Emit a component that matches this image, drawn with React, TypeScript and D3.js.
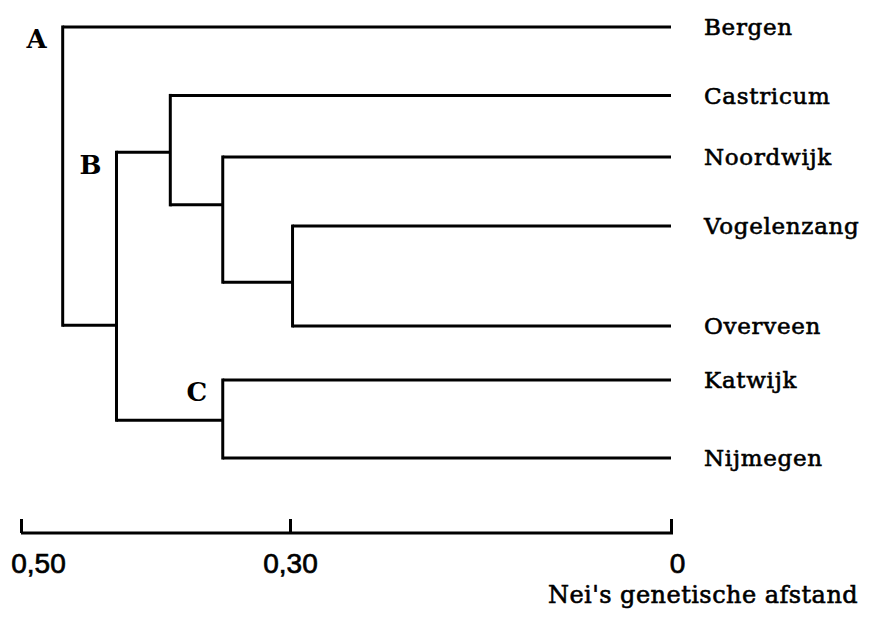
import * as d3 from "d3";
import { useEffect, useRef } from "react";

// leaves, top to bottom, with their vertical row and parent cluster
const leafNames = ["Bergen", "Castricum", "Noordwijk", "Vogelenzang", "Overveen", "Katwijk", "Nijmegen"];
const leafRows = [0, 1, 1.9, 2.91, 4.37, 5.16, 6.3];
const leafParents = ["A", "n1", "n2", "n3", "n3", "C", "C"];

// internal clusters: id, parent, joining distance, row where it attaches to its parent
const clusterIds = ["A", "B", "n1", "n2", "n3", "C"];
const clusterParents = ["", "A", "B", "n1", "n2", "B"];
const clusterDistances = [0.469, 0.429, 0.389, 0.35, 0.298, 0.35];
const clusterRows = [0, 4.36, 1.83, 2.6, 3.73, 5.75];
const clusterLabels = ["A", "B", "", "", "", "C"];

const tickValues = [0.5, 0.3, 0];
const tickLabels = ["0,50", "0,30", "0"];
const axisTitle = "Nei's genetische afstand";

const WIDTH = 869;
const HEIGHT = 619;
const SERIF = "'DejaVu Serif', serif";

interface NodeRow {
  id: string;
  parent: string;
  distance: number;
  row: number;
  label: string;
  leaf: boolean;
}

export default function App() {
  const svgRef = useRef<SVGSVGElement | null>(null);

  useEffect(() => {
    if (!svgRef.current) return;
    const svg = d3.select(svgRef.current);
    svg.selectAll("*").remove();

    const rows: NodeRow[] = [
      ...clusterIds.map((id, i) => ({
        id,
        parent: clusterParents[i],
        distance: clusterDistances[i],
        row: clusterRows[i],
        label: clusterLabels[i],
        leaf: false,
      })),
      ...leafNames.map((name, i) => ({
        id: name,
        parent: leafParents[i],
        distance: 0,
        row: leafRows[i],
        label: name,
        leaf: true,
      })),
    ];

    const root = d3
      .stratify<NodeRow>()
      .id((d) => d.id)
      .parentId((d) => d.parent || null)(rows);

    // the printed scale is not quite linear, so use a piecewise one
    const x = d3.scaleLinear().domain([0.5, 0.3, 0]).range([21, 290, 671]);
    const y = d3
      .scaleLinear()
      .domain([0, d3.max(leafRows) ?? 1])
      .range([27, 458]);

    const g = svg.append("g");
    const nodes = root.descendants();

    // vertical bar of each cluster spanning its children
    g.append("g")
      .selectAll("line")
      .data(nodes.filter((n) => n.children))
      .join("line")
      .attr("x1", (d) => x(d.data.distance))
      .attr("x2", (d) => x(d.data.distance))
      .attr("y1", (d) => y(d3.min(d.children!, (c) => c.data.row) ?? 0) - 1.5)
      .attr("y2", (d) => y(d3.max(d.children!, (c) => c.data.row) ?? 0) + 1.5)
      .attr("stroke", "#000")
      .attr("stroke-width", 3);

    // horizontal branch from parent to each node
    g.append("g")
      .selectAll("line")
      .data(nodes.filter((n) => n.parent))
      .join("line")
      .attr("x1", (d) => x(d.parent!.data.distance))
      .attr("x2", (d) => x(d.data.distance))
      .attr("y1", (d) => y(d.data.row))
      .attr("y2", (d) => y(d.data.row))
      .attr("stroke", "#000")
      .attr("stroke-width", 3);

    // leaf names
    g.append("g")
      .selectAll("text")
      .data(nodes.filter((n) => n.data.leaf))
      .join("text")
      .attr("x", x(0) + 33)
      .attr("y", (d) => y(d.data.row))
      .attr("dy", "0.36em")
      .attr("font-family", SERIF)
      .attr("font-size", 23)
      .attr("letter-spacing", 0.7)
      .attr("stroke", "#000")
      .attr("stroke-width", 0.6)
      .text((d) => d.data.label);

    // cluster letters
    g.append("g")
      .selectAll("text")
      .data(nodes.filter((n) => n.data.label && !n.data.leaf))
      .join("text")
      .attr("x", (d) => x(d.data.distance) - 26)
      .attr("y", (d) => y(d3.min(d.children!, (c) => c.data.row) ?? 0) + 12)
      .attr("dy", "0.36em")
      .attr("text-anchor", "middle")
      .attr("font-family", SERIF)
      .attr("font-weight", "bold")
      .attr("font-size", 26)
      .text((d) => d.data.label);

    // distance axis
    const axis = g
      .append("g")
      .attr("transform", "translate(0,533)")
      .call(
        d3
          .axisBottom(x)
          .tickValues(tickValues)
          .tickSize(-14)
          .tickSizeOuter(0)
          .tickPadding(20)
          .tickFormat((_, i) => tickLabels[i]),
      );
    axis.select(".domain").attr("stroke-width", 3).attr("d", `M${x(0.5)},0H${x(0) + 2}`);
    axis.selectAll(".tick line").attr("stroke-width", 3);
    axis
      .selectAll<SVGTextElement, number>(".tick text")
      .attr("font-family", "'Liberation Sans', Arial, sans-serif")
      .attr("font-size", 28)
      .attr("fill", "#000")
      .attr("stroke", "#000")
      .attr("stroke-width", 0.7)
      .attr("x", (d) => (d === 0.5 ? 17 : d === 0 ? 6 : 0));

    g.append("text")
      .attr("x", 548)
      .attr("y", 603)
      .attr("font-family", SERIF)
      .attr("font-size", 24)
      .attr("letter-spacing", 0.45)
      .attr("stroke", "#000")
      .attr("stroke-width", 0.6)
      .text(axisTitle);
  }, []);

  return (
    <svg
      ref={svgRef}
      width={WIDTH}
      height={HEIGHT}
      style={{ position: "absolute", left: 0, top: 0, background: "#fff" }}
    />
  );
}
